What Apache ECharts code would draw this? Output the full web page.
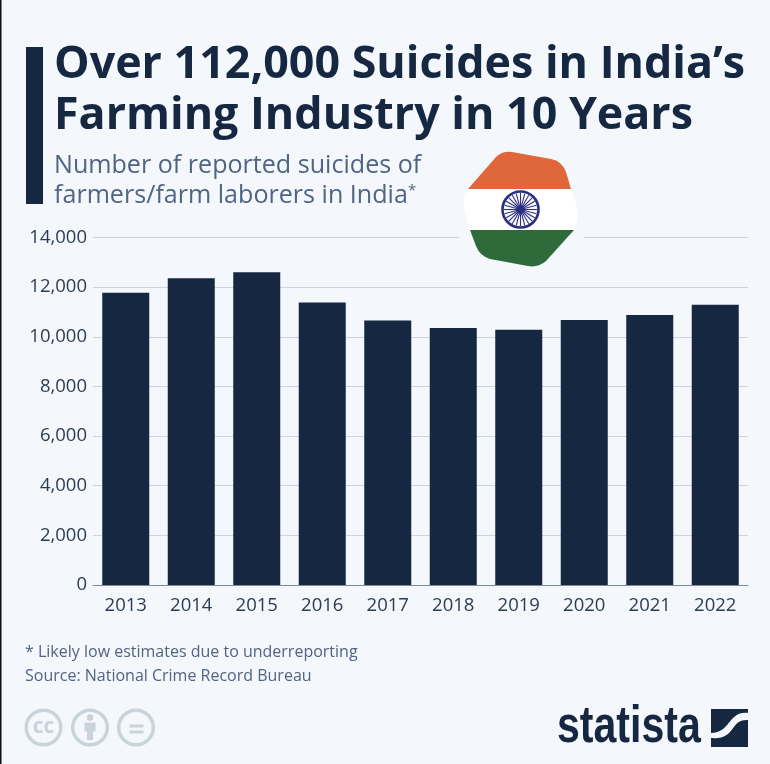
<!DOCTYPE html>
<html>
<head>
<meta charset="utf-8">
<style>
  html, body { margin: 0; padding: 0; background: #f4f7fb; }
  #chart { width: 770px; height: 764px; }
</style>
<script src="https://cdn.jsdelivr.net/npm/echarts@6/dist/echarts.min.js"></script>
</head>
<body>
<div id="chart"></div>
<script>
var years = ['2013', '2014', '2015', '2016', '2017', '2018', '2019', '2020', '2021', '2022'];
var suicides = [11772, 12360, 12602, 11379, 10655, 10349, 10281, 10677, 10881, 11290];

var navy = '#162742';
var slate = '#506484';
var iconGrey = '#c9d3db';
var font = '"Open Sans", sans-serif';

// graphic component has no plain path type, so register the shapes first
function shape(name, pathData) {
  echarts.graphic.registerShape(name, echarts.graphic.extendPath(pathData));
  return name;
}
shape('flagOrange', 'M468 189 L496 157 Q502 151 512 152 L551 159 Q562 161 566 172 L571 189 Z');
shape('flagWhite', 'M468 189 L571 189 L577 207 Q580 218 574 230 L470 230 L465 212 Q461 200 468 189 Z');
shape('flagGreen', 'M470 230 L574 230 L546 261 Q538 268 528 266 L490 259 Q480 256 476 246 Z');
shape('logoSwoosh', 'M748 713 C728 711 731 733 711 733 L711 738 C737 740 729 719 748 720 Z');

// ashoka chakra spokes
var spokes = [];
for (var i = 0; i < 24; i++) {
  var a = i * Math.PI / 12;
  spokes.push({
    type: 'line', z: 12,
    shape: { x1: 520.5, y1: 209.5, x2: 520.5 + 16.5 * Math.cos(a), y2: 209.5 + 16.5 * Math.sin(a) },
    style: { stroke: '#2b2f7f', lineWidth: 1.1 }
  });
}

function label(x, y, text, size, weight, color) {
  return { type: 'text', x: x, y: y, z: 10,
    style: { text: text, font: (weight || 400) + ' ' + size + 'px ' + font, fill: color || navy, textVerticalAlign: 'middle' } };
}

function ring(cx) {
  return { type: 'circle', z: 10, shape: { cx: cx, cy: 727.5, r: 17.3 }, style: { fill: 'none', stroke: iconGrey, lineWidth: 3.4 } };
}

var decoration = [
  { type: 'rect', shape: { x: 0, y: 0, width: 1.5, height: 764 }, style: { fill: '#111' } },
  { type: 'rect', shape: { x: 26, y: 47, width: 17, height: 157 }, style: { fill: navy } },
  label(54, 65.5, 'Over 112,000 Suicides in India\u2019s', 44.8, 700),
  label(54, 116.5, 'Farming Industry in 10 Years', 44.8, 700),
  label(54, 166, 'Number of reported suicides of', 25.1, 400, slate),
  label(54, 196, 'farmers/farm laborers in India', 25.1, 400, slate),
  label(408, 191, '*', 15, 400, slate),
  label(25, 652, '* Likely low estimates due to underreporting', 16, 400, slate),
  label(25, 676, 'Source: National Crime Record Bureau', 16, 400, slate),

  // gap in the top gridline behind the flag
  { type: 'rect', z: 5, shape: { x: 459, y: 232, width: 125, height: 12 }, style: { fill: '#f4f7fb' } },
  // flag
  { type: 'flagOrange', z: 10, style: { fill: '#e0673a' } },
  { type: 'flagWhite', z: 10, style: { fill: '#ffffff' } },
  { type: 'flagGreen', z: 10, style: { fill: '#2f6b3a' } },
  { type: 'circle', z: 12, shape: { cx: 520.5, cy: 209.5, r: 18 }, style: { fill: '#fff', stroke: '#2b2f7f', lineWidth: 2.6 } },
  { type: 'circle', z: 13, shape: { cx: 520.5, cy: 209.5, r: 3.4 }, style: { fill: '#2b2f7f' } },

  // licence icons
  ring(43.5), ring(90), ring(136),
  { type: 'text', z: 10, x: 43.5, y: 727.5, style: { text: 'cc', font: '700 21px ' + font, fill: iconGrey, textAlign: 'center', textVerticalAlign: 'middle' } },
  { type: 'circle', z: 10, shape: { cx: 90, cy: 717.5, r: 3.2 }, style: { fill: iconGrey } },
  { type: 'rect', z: 10, shape: { x: 84.5, y: 722.5, width: 11, height: 9, r: 1 }, style: { fill: iconGrey } },
  { type: 'rect', z: 10, shape: { x: 87, y: 729, width: 6, height: 11 }, style: { fill: iconGrey } },
  { type: 'rect', z: 10, shape: { x: 129.5, y: 724.5, width: 14, height: 3 }, style: { fill: iconGrey } },
  { type: 'rect', z: 10, shape: { x: 129.5, y: 730.5, width: 14, height: 3 }, style: { fill: iconGrey } },

  // logo
  { type: 'text', z: 10, x: 557, y: 728, scaleX: 0.79, style: { text: 'statista', font: '700 52px "Liberation Sans", sans-serif', fill: navy, textAlign: 'left', textVerticalAlign: 'middle' } },
  { type: 'rect', z: 10, shape: { x: 711, y: 709, width: 37, height: 38 }, style: { fill: navy } },
  { type: 'logoSwoosh', z: 11, style: { fill: '#f4f7fb' } }
].concat(spokes);

var chart = echarts.init(document.getElementById('chart'), null, { renderer: 'canvas' });
chart.setOption({
  animation: false,
  backgroundColor: '#f4f7fb',
  grid: { left: 93, right: 22, top: 237.5, height: 347.5, containLabel: false },
  xAxis: {
    type: 'category',
    data: years,
    axisLine: { lineStyle: { color: '#7d8a9c', width: 1 } },
    axisTick: { show: false },
    axisLabel: { color: '#2c3c52', fontFamily: font, fontSize: 18.5, margin: 11 }
  },
  yAxis: {
    type: 'value',
    min: 0,
    max: 14000,
    interval: 2000,
    axisLine: { show: false },
    axisTick: { show: false },
    axisLabel: {
      color: '#2c3c52', fontFamily: font, fontSize: 18.5, margin: 6, padding: [2, 0, 0, 0],
      formatter: function (v) { return v.toLocaleString('en-US'); }
    },
    splitLine: { lineStyle: { color: '#cdd4dc', width: 1.2 } }
  },
  series: [{
    type: 'bar',
    data: suicides,
    barWidth: 47,
    itemStyle: { color: navy }
  }],
  graphic: { elements: decoration }
});
</script>
</body>
</html>
